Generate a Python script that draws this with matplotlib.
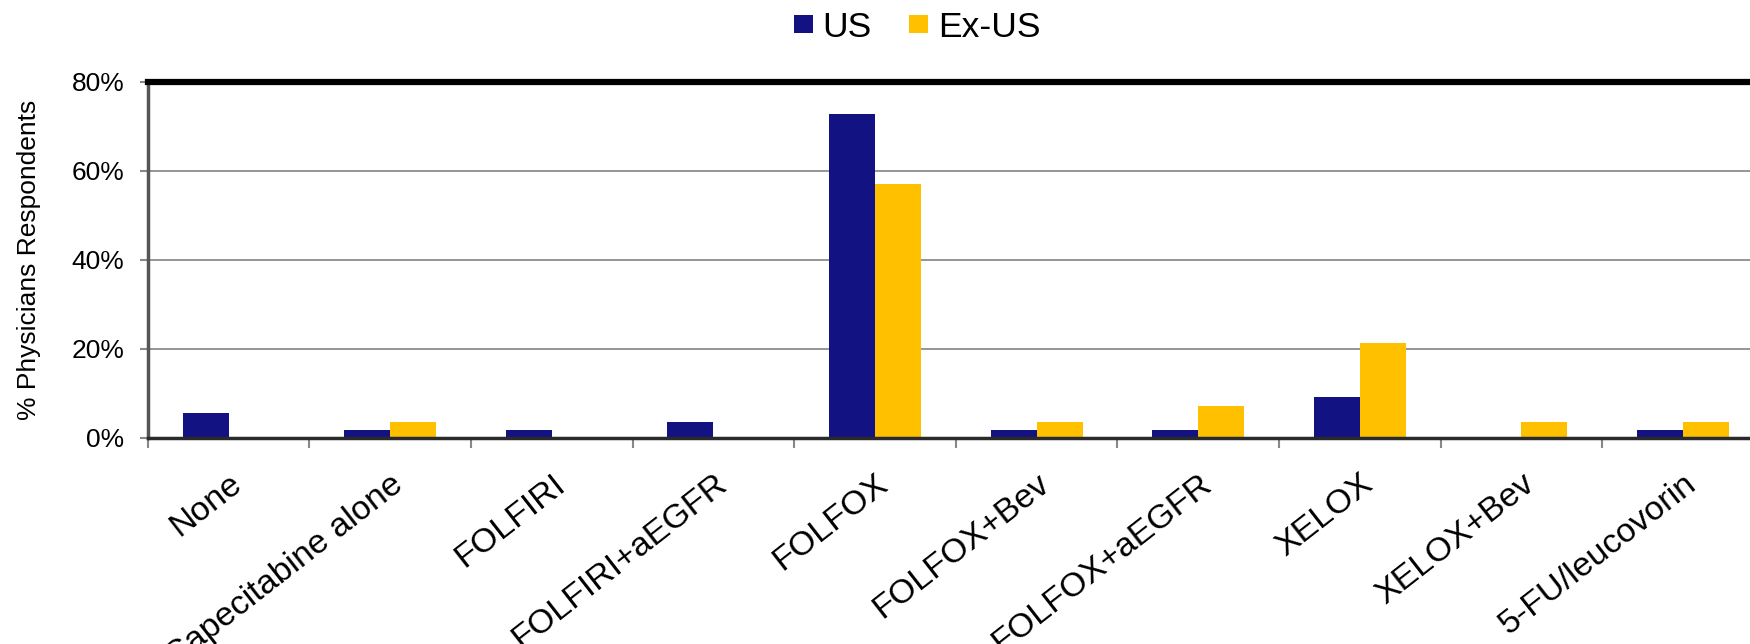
import numpy as np
import matplotlib
matplotlib.use('Agg')
import matplotlib.pyplot as plt
from matplotlib.ticker import FixedLocator, PercentFormatter

plt.rcParams['font.family'] = ['Liberation Sans', 'DejaVu Sans']

categories = ['None', 'Capecitabine alone', 'FOLFIRI', 'FOLFIRI+aEGFR', 'FOLFOX',
              'FOLFOX+Bev', 'FOLFOX+aEGFR', 'XELOX', 'XELOX+Bev', '5-FU/leucovorin']
us_vals = [5.5, 1.8, 1.8, 3.6, 72.7, 1.8, 1.8, 9.1, 0.0, 1.8]
exus_vals = [0.0, 3.6, 0.0, 0.0, 57.1, 3.6, 7.1, 21.4, 3.6, 3.6]
series_names = ['US', 'Ex-US']
colors = ['#121282', '#FFC000']
yticks = [0, 20, 40, 60, 80]

fig = plt.figure(figsize=(17.5, 6.44), dpi=100)
# plot area runs past the right edge, as in the original slide crop
ax = fig.add_axes([0.0845, 0.32, 0.9234, 0.553])

x = np.arange(len(categories))
w = 0.285
ax.bar(x - w/2, us_vals, w, color=colors[0], label=series_names[0], zorder=3)
ax.bar(x + w/2, exus_vals, w, color=colors[1], label=series_names[1], zorder=3)

ax.set_xlim(-0.5, len(categories) - 0.5)
ax.set_ylim(0, 80)
ax.set_yticks(yticks)
ax.yaxis.set_major_formatter(PercentFormatter(decimals=0))
ax.tick_params(axis='y', labelsize=19, length=6, width=1.5, color='#888888', pad=11)
ax.grid(axis='y', color='#8c8c8c', linewidth=1.3, zorder=0)

ax.set_xticks(x)
ax.set_xticklabels(categories, rotation=38, ha='right', va='top',
                   rotation_mode='anchor', fontsize=24.5)
ax.tick_params(axis='x', which='major', length=0, pad=22)
ax.xaxis.set_minor_locator(FixedLocator(np.arange(-0.5, len(categories), 1.0)))
ax.tick_params(axis='x', which='minor', length=7, width=1.5, color='#888888')

ax.spines['top'].set_linewidth(4.5)
ax.spines['top'].set_color('black')
ax.spines['left'].set_linewidth(2.5)
ax.spines['left'].set_color('#555555')
ax.spines['bottom'].set_linewidth(2.5)
ax.spines['bottom'].set_color('#2a2a2a')
ax.spines['bottom'].set_zorder(4)

ax.set_ylabel('% Physicians Respondents', fontsize=19)
ax.yaxis.set_label_coords(-0.066, 0.5)

fig.legend(loc='center', bbox_to_anchor=(0.524, 0.958), ncol=2, frameon=False,
           fontsize=25.5, handlelength=0.53, handleheight=0.44,
           handletextpad=0.28, columnspacing=1.05)

fig.savefig('out.png', dpi=100)
plt.close()
